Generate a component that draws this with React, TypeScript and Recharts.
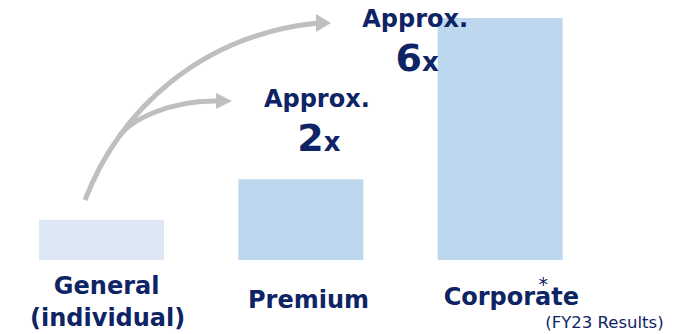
import React from 'react';
import { BarChart, Bar, XAxis, YAxis, Cell, LabelList, Customized } from 'recharts';

const categories = ['General', 'Premium', 'Corporate'];
const relativeValues = [1, 2, 6];
const multiplierLabels = ['', '2', '6'];
const approxText = 'Approx.';
const footnote = '(FY23 Results)';

const data = categories.map((name, i) => ({
  name,
  value: relativeValues[i],
  mult: multiplierLabels[i],
}));

const NAVY = '#0e2464';
const FONT = '"DejaVu Sans", Verdana, sans-serif';
const BAR_COLORS = ['#dde8f4', '#bdd7ee', '#bdd7ee'];
const ARROW = '#bfbfbf';

const CategoryTick = (props: any) => {
  const { x, payload } = props;
  const idx = payload.index;
  const common = { fill: NAVY, fontFamily: FONT, fontWeight: 700, fontSize: 24, textAnchor: 'middle' as const };
  if (idx === 0) {
    return (
      <g>
        <text x={x + 5} y={294} {...common}>General</text>
        <text x={x + 6} y={326} {...common}>(individual)</text>
      </g>
    );
  }
  if (idx === 1) {
    return <text x={x + 7.5} y={308} {...common}>Premium</text>;
  }
  return (
    <g>
      <text x={x + 11} y={305} {...common}>{payload.value}</text>
      <text x={x + 43} y={291} fill={NAVY} fontFamily={FONT} fontSize={19} textAnchor="middle">*</text>
      <text x={x + 45} y={328} fill={NAVY} fontFamily={FONT} fontSize={16.5} textAnchor="start">{footnote}</text>
    </g>
  );
};

const MultLabel = (props: any) => {
  const { x, y, width, value, index } = props;
  if (!value) return null;
  const cx = x + width / 2;
  const off = index === 1 ? { dx: 16, a: -72, b: -28 } : { dx: -85, a: 9, b: 53 };
  return (
    <g>
      <text x={cx + off.dx} y={y + off.a} fill={NAVY} fontFamily={FONT} fontWeight={700} fontSize={24} textAnchor="middle">
        {approxText}
      </text>
      <text x={cx + off.dx + 2} y={y + off.b} fill={NAVY} fontFamily={FONT} fontWeight={700} textAnchor="middle">
        <tspan fontSize={38}>{value}</tspan>
        <tspan fontSize={26}>x</tspan>
      </text>
    </g>
  );
};

const Arrows = () => (
  <g>
    <path d="M 85 200 C 120 110, 200 35, 318 23" fill="none" stroke={ARROW} strokeWidth={5} />
    <polygon points="316,14 331,23 316,32" fill={ARROW} />
    <path d="M 119.6 136.1 C 130 121, 168 100, 218 101" fill="none" stroke={ARROW} strokeWidth={5} />
    <polygon points="216,93 232,101 216,109" fill={ARROW} />
  </g>
);

export default function App() {
  return (
    <div style={{ position: 'absolute', left: 0, top: 0, background: '#fff' }}>
      <BarChart width={682} height={334} data={data} margin={{ top: 18, right: 82, bottom: 0, left: 2 }}>
        <XAxis dataKey="name" axisLine={false} tickLine={false} height={74} interval={0} tick={<CategoryTick />} />
        <YAxis hide domain={[0, 6]} />
        <Customized component={Arrows} />
        <Bar dataKey="value" barSize={125} isAnimationActive={false}>
          {data.map((d, i) => (
            <Cell key={d.name} fill={BAR_COLORS[i]} />
          ))}
          <LabelList dataKey="mult" content={<MultLabel />} />
        </Bar>
      </BarChart>
    </div>
  );
}
